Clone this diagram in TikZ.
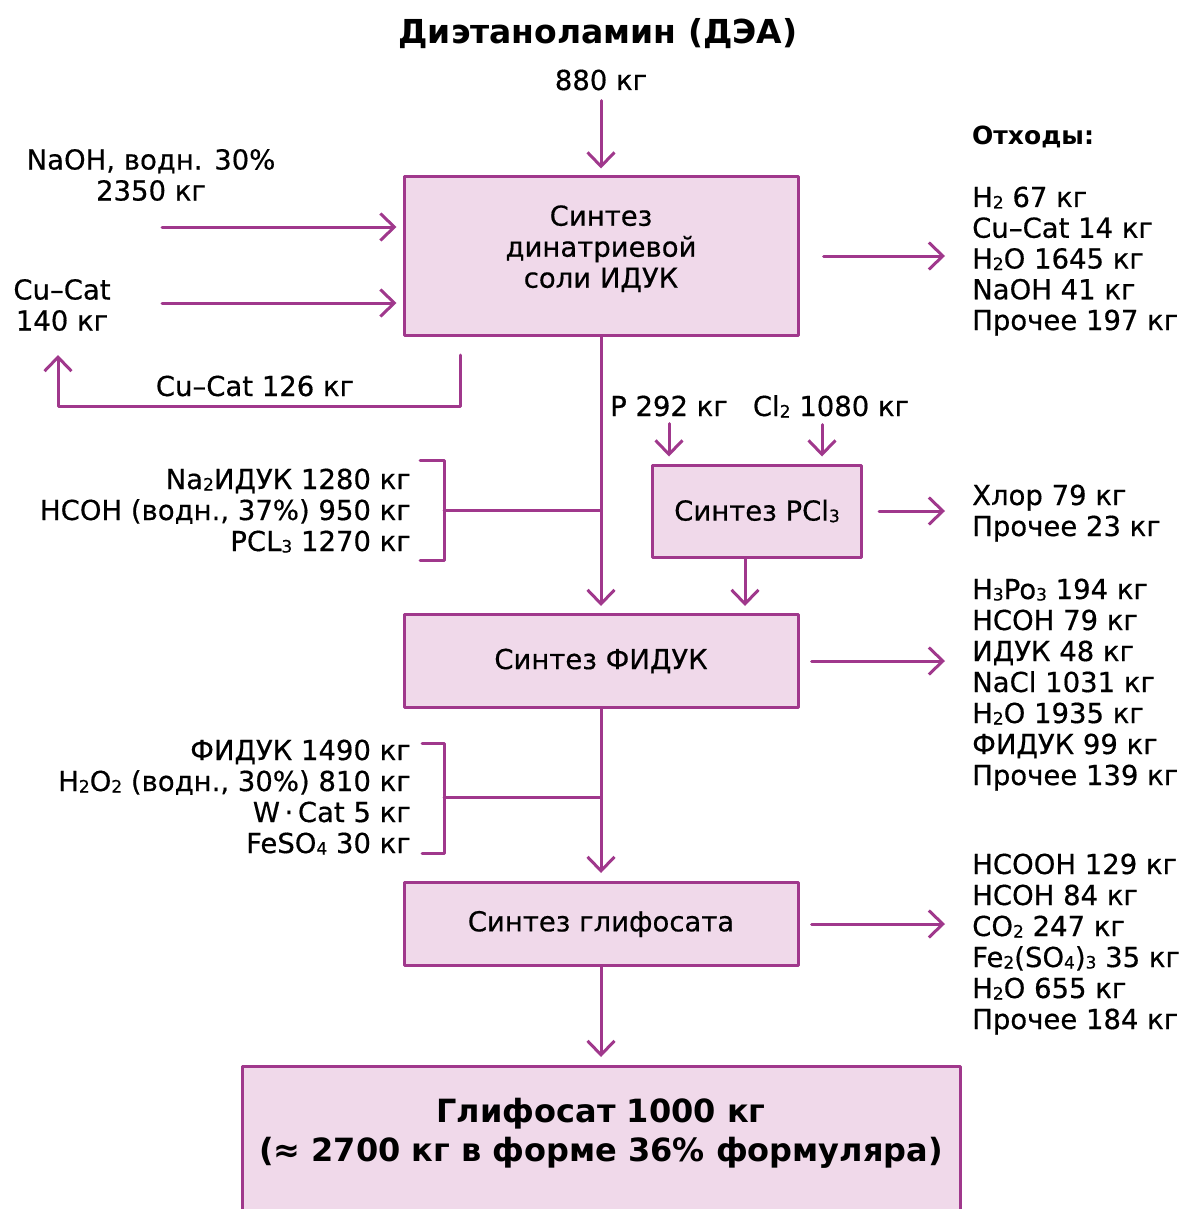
\documentclass[tikz,border=0pt]{standalone}
\usepackage{fontspec}
\setmainfont{DejaVu Sans}[UprightFeatures={FakeBold=0.5}]
\usepackage{xcolor}
\usetikzlibrary{arrows.meta}
\definecolor{flowpurple}{RGB}{160,56,140}
\definecolor{flowpink}{RGB}{240,217,234}
\newcommand{\ssub}[1]{\raisebox{-1.5pt}{\fontsize{17}{17}\selectfont #1}}

\begin{document}
\begin{tikzpicture}[x=1pt,y=-1pt,line cap=round,line join=round,
  every node/.style={inner sep=0pt,font=\fontsize{27.5}{31}\selectfont},
  procbox/.style={draw=flowpurple,fill=flowpink,line width=3pt,align=center},
  flow/.style={draw=flowpurple,line width=3pt,-{Straight Barb[length=14pt,width=27pt]}},
  feedline/.style={draw=flowpurple,line width=3pt}]
  \path[use as bounding box] (0,0) rectangle (1191,1209);

  % process boxes
  \node[procbox,minimum width=394,minimum height=158,text depth=19pt] (salt) at (601,256) {Синтез\\динатриевой\\соли ИДУК};
  \node[procbox,minimum width=209,minimum height=92] (pcl) at (757,511) {Синтез PCl\ssub{3}};
  \node[procbox,minimum width=394,minimum height=93] (fiduk) at (601,661) {Синтез ФИДУК};
  \node[procbox,minimum width=394,minimum height=83] (glyph) at (601,924) {Синтез глифосата};
  \node[procbox,minimum width=718,minimum height=180,anchor=north] (product) at (601,1065) {};
  \node[align=center,font=\bfseries\fontsize{32}{39}\selectfont] (prodtext) at (601,1133)
    {Глифосат 1000 кг\\(≈ 2700 кг в форме 36\% формуляра)};

  % feeds
  \node[anchor=base,font=\bfseries\fontsize{33}{40}\selectfont] (title) at (598,44) {Диэтаноламин (ДЭА)};
  \node[anchor=base] (feed) at (601,90) {880 кг};
  \node[align=center] (naoh) at (151,175) {NaOH, водн. 30\%\\2350 кг};
  \node[align=center] (cuin) at (62,305) {Cu–Cat\\140 кг};
  \node[anchor=base] (culoop) at (255,396) {Cu–Cat 126 кг};
  \node[anchor=base] (pin) at (669,416) {P 292 кг};
  \node[anchor=base] (clin) at (831,416) {Cl\ssub{2} 1080 кг};
  \coordinate (naoh-end) at (162,227);
  \coordinate (cu-end) at (162,303);
  \coordinate (cu-back) at (460,355);
  \coordinate (cu-ret) at (58,355);

  \draw[flow,shorten <=10pt,shorten >=7pt] (feed.south) -- (salt.north);
  \draw[flow,shorten >=6pt] (naoh-end) -- (naoh-end -| salt.west);
  \draw[flow,shorten >=6pt] (cu-end) -- (cu-end -| salt.west);
  \draw[flow] (cu-back) -- ++(0,51) -| (cu-ret);
  \draw[flow,shorten <=7pt,shorten >=7pt] (pin.south) -- (pin.south |- pcl.north);
  \draw[flow,shorten <=7pt,shorten >=7pt] ([xshift=-9pt]clin.south) -- ([xshift=-9pt]clin.south |- pcl.north);

  % main line
  \draw[flow,shorten >=7pt] (salt.south) -- (fiduk.north);
  \draw[flow,shorten >=7pt] ([xshift=-12pt]pcl.south) -- ([xshift=-12pt]pcl.south |- fiduk.north);
  \draw[flow,shorten >=8pt] (fiduk.south) -- (glyph.north);
  \draw[flow,shorten >=8pt] (glyph.south) -- (product.north);

  % reagents, left side
  \foreach \t [count=\i from 0] in {Na\ssub{2}ИДУК 1280 кг, {HCOH (водн., 37\%) 950 кг}, PCL\ssub{3} 1270 кг}
    \node[anchor=base east] (na-\i) at (411,489+31*\i) {\t};
  \coordinate (b1t) at (420,460);
  \coordinate (b1b) at (420,560);
  \coordinate (b1m) at (444,510);
  \draw[feedline] (b1t) -- ++(24,0) |- (b1b);
  \draw[feedline] (b1m) -- (b1m -| salt);

  \foreach \t [count=\i from 0] in {ФИДУК 1490 кг, {H\ssub{2}O\ssub{2} (водн., 30\%) 810 кг}, W\,·\,Cat 5 кг, FeSO\ssub{4} 30 кг}
    \node[anchor=base east] (fi-\i) at (411,760+31*\i) {\t};
  \coordinate (b2t) at (422,743);
  \coordinate (b2b) at (422,853);
  \coordinate (b2m) at (444,797);
  \draw[feedline] (b2t) -- ++(22,0) |- (b2b);
  \draw[feedline] (b2m) -- (b2m -| fiduk);

  % waste, right side
  \node[anchor=base west,font=\bfseries\fontsize{25}{31}\selectfont] (waste) at (972,145) {Отходы:};
  \foreach \t [count=\i from 0] in {H\ssub{2} 67 кг, Cu–Cat 14 кг, H\ssub{2}O 1645 кг, NaOH 41 кг, Прочее 197 кг}
    \node[anchor=base west] (wa-\i) at (972,207+30.75*\i) {\t};
  \foreach \t [count=\i from 0] in {Хлор 79 кг, Прочее 23 кг}
    \node[anchor=base west] (wp-\i) at (972,505+31*\i) {\t};
  \foreach \t [count=\i from 0] in {H\ssub{3}Po\ssub{3} 194 кг, HCOH 79 кг, ИДУК 48 кг, NaCl 1031 кг, H\ssub{2}O 1935 кг, ФИДУК 99 кг, Прочее 139 кг}
    \node[anchor=base west] (wf-\i) at (972,599+31*\i) {\t};
  \foreach \t [count=\i from 0] in {HCOOH 129 кг, HCOH 84 кг, CO\ssub{2} 247 кг, Fe\ssub{2}(SO\ssub{4})\ssub{3} 35 кг, H\ssub{2}O 655 кг, Прочее 184 кг}
    \node[anchor=base west] (wg-\i) at (972,874+31*\i) {\t};

  \draw[flow,shorten <=24pt,shorten >=27pt] (salt.east) -- (salt.east -| wa-0.west);
  \draw[flow,shorten <=16pt,shorten >=27pt] (pcl.east) -- (pcl.east -| wp-0.west);
  \draw[flow,shorten <=12pt,shorten >=27pt] (fiduk.east) -- (fiduk.east -| wf-0.west);
  \draw[flow,shorten <=12pt,shorten >=27pt] (glyph.east) -- (glyph.east -| wg-0.west);
\end{tikzpicture}
\end{document}
